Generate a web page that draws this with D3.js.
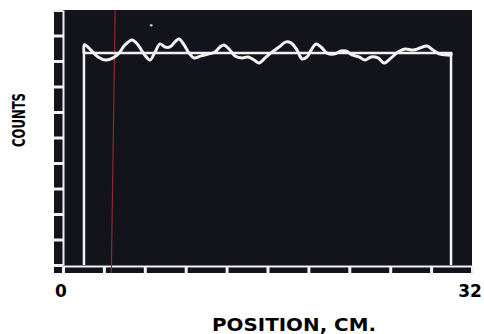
<!DOCTYPE html>
<html>
<head>
<meta charset="utf-8">
<script src="https://cdn.jsdelivr.net/npm/d3@7"></script>
<style>
    body { margin: 0; background: #ffffff; }
    text { font-family: "DejaVu Sans", sans-serif; font-weight: bold; fill: #000; }
</style>
</head>
<body>
<div id="container"></div>
<script>
// measured profile, position in cm vs counts (arbitrary units)
const positions = [1.64, 1.68, 2.11, 2.74, 3.36, 3.91, 4.38, 4.85, 5.40, 5.87, 6.34, 6.81, 7.20, 7.59,
    7.98, 8.37, 8.76, 9.08, 9.47, 9.86, 10.25, 10.80, 11.35, 11.89, 12.28, 12.60, 12.99, 13.46,
    14.01, 14.48, 14.95, 15.34, 15.81, 16.35, 16.90, 17.45, 17.84, 18.31, 18.70, 19.09, 19.41,
    19.80, 20.19, 20.66, 21.21, 21.75, 22.14, 22.61, 23.16, 23.63, 24.10, 24.65, 25.12, 25.67,
    26.21, 26.76, 27.39, 27.93, 28.48, 28.95, 29.50, 29.97, 30.36, 30.36];
const counts = [8.31, 8.64, 8.47, 8.16, 8.04, 8.12, 8.31, 8.63, 8.82, 8.63, 8.27, 8.04, 8.35, 8.67,
    8.55, 8.55, 8.75, 8.86, 8.63, 8.31, 8.12, 8.20, 8.27, 8.35, 8.55, 8.63, 8.47, 8.20,
    8.12, 8.16, 8.04, 7.92, 8.12, 8.35, 8.55, 8.75, 8.71, 8.43, 8.08, 8.16, 8.43,
    8.67, 8.55, 8.31, 8.27, 8.39, 8.39, 8.24, 8.16, 8.04, 8.16, 8.12, 7.92, 8.12,
    8.35, 8.47, 8.43, 8.51, 8.59, 8.43, 8.27, 8.24, 8.24, 8.31];

// flat expected level and source edges
const edgeLeft = 1.64;
const edgeRight = 30.36;
const level = 8.31;

// axis
const xDomain = [0, 32];
const yDomain = [0, 10];
const xTickLabels = ["0", "32"];
const xTicks = d3.range(0, 33, 3.2);
const yTicks = d3.range(0, 11, 1);

// scan marks on the print
const redMark = [{ pos: 4.08, c: 10 }, { pos: 3.78, c: -0.3 }];
const speck = [{ pos: 6.9, c: 9.4 }];

const width = 484, height = 334;
const margin = { top: 10, right: 12, bottom: 69, left: 63 };
const w = width - margin.left - margin.right;
const h = height - margin.top - margin.bottom;
const strip = 9;
const bg = "#13131b";
const fg = "#f2f2f2";

const svg = d3.select("#container")
    .append("svg")
    .attr("width", width)
    .attr("height", height);

const g = svg.append("g")
    .attr("transform", `translate(${margin.left},${margin.top})`);

const x = d3.scaleLinear().domain(xDomain).range([0, w]);
const y = d3.scaleLinear().domain(yDomain).range([h, 0]);

// dark frame including the axis strips
g.append("rect")
    .attr("x", -strip)
    .attr("y", 0)
    .attr("width", w + strip)
    .attr("height", h + strip - 1)
    .attr("fill", bg);

// left strip with tick gaps
const yAxis = g.append("g")
    .call(d3.axisLeft(y).tickValues(yTicks).tickSize(strip).tickSizeOuter(0).tickFormat(""));
yAxis.select(".domain").attr("stroke", fg).attr("stroke-width", 2);
yAxis.selectAll(".tick line").attr("stroke", fg).attr("stroke-width", 3);

// bottom strip with tick gaps
const xAxis = g.append("g")
    .attr("transform", `translate(0,${h + 1})`)
    .call(d3.axisBottom(x).tickValues(xTicks).tickSize(strip).tickSizeOuter(0).tickFormat(""));
xAxis.select(".domain").attr("stroke", fg).attr("stroke-width", 2);
xAxis.selectAll(".tick line").attr("stroke", fg).attr("stroke-width", 3);

g.append("line")
    .attr("x1", -strip).attr("x2", 0)
    .attr("y1", h + 1).attr("y2", h + 1)
    .attr("stroke", fg).attr("stroke-width", 2);

// red scratch
g.append("line")
    .attr("x1", x(redMark[0].pos)).attr("y1", y(redMark[0].c))
    .attr("x2", x(redMark[1].pos)).attr("y2", y(redMark[1].c))
    .attr("stroke", "#8e2a30").attr("stroke-width", 1.2);

g.selectAll(".speck")
    .data(speck)
    .join("circle")
    .attr("class", "speck")
    .attr("cx", d => x(d.pos))
    .attr("cy", d => y(d.c))
    .attr("r", 1.4)
    .attr("fill", "#bbb");

// flat level box
const box = [[edgeLeft, 0], [edgeLeft, level], [edgeRight, level], [edgeRight, 0]];
g.append("path")
    .attr("d", d3.line().x(d => x(d[0])).y(d => y(d[1]))(box))
    .attr("fill", "none")
    .attr("stroke", fg)
    .attr("stroke-width", 2.5);

// measured curve
const pts = positions.map((p, i) => [p, counts[i]]);
g.append("path")
    .attr("d", d3.line().curve(d3.curveCatmullRom).x(d => x(d[0])).y(d => y(d[1]))(pts))
    .attr("fill", "none")
    .attr("stroke", fg)
    .attr("stroke-width", 3)
    .attr("stroke-linejoin", "round");

// labels
g.selectAll(".xlab")
    .data(xTickLabels)
    .join("text")
    .attr("class", "xlab")
    .attr("x", d => x(+d) - 2)
    .attr("y", h + 32)
    .attr("text-anchor", "middle")
    .attr("font-size", 17)
    .text(d => d);

svg.append("text")
    .attr("x", 294)
    .attr("y", 331)
    .attr("text-anchor", "middle")
    .attr("font-size", 18)
    .attr("textLength", 164)
    .attr("lengthAdjust", "spacingAndGlyphs")
    .text("POSITION, CM.");

svg.append("text")
    .attr("transform", "translate(25,120) rotate(-90)")
    .attr("text-anchor", "middle")
    .attr("font-size", 17)
    .attr("textLength", 54)
    .attr("lengthAdjust", "spacingAndGlyphs")
    .text("COUNTS");
</script>
</body>
</html>
